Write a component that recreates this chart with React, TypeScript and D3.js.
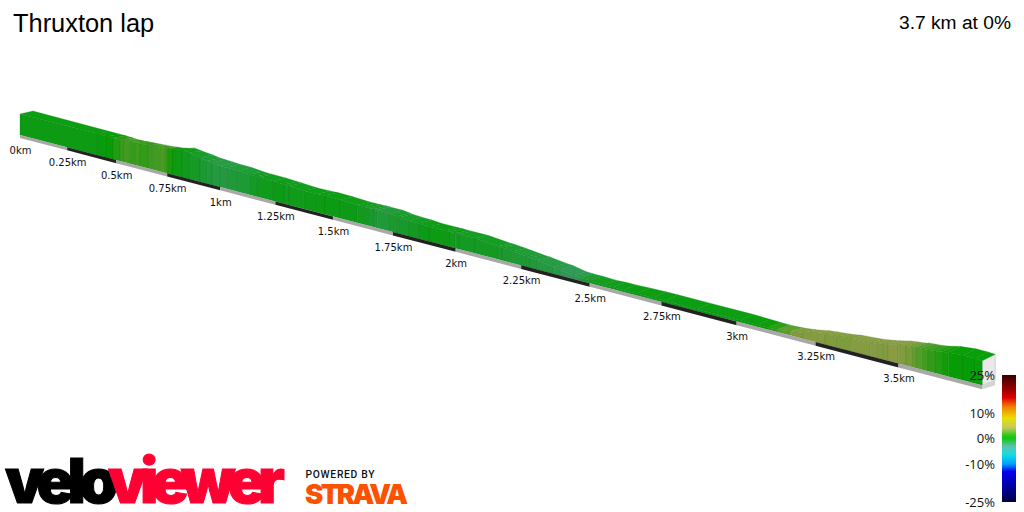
import React from "react";
import * as d3 from "d3";

const TITLE = "Thruxton lap";
const SUMMARY = "3.7 km at 0%";
const tickKm = [0, 0.25, 0.5, 0.75, 1, 1.25, 1.5, 1.75, 2, 2.25, 2.5, 2.75, 3, 3.25, 3.5];
const tickLabels = ["0km", "0.25km", "0.5km", "0.75km", "1km", "1.25km", "1.5km", "1.75km", "2km", "2.25km", "2.5km", "2.75km", "3km", "3.25km", "3.5km"];
const legendTicks = [25, 10, 0, -10, -25];
const totalKm = 3.74;

const knotKm = [0, .403, .454, .484, .519, .539, .569, .593, .618, .657, .681, .715, .74, .754, .773, .787, .821, .854, .906, .939, .962, .999, 1.031, 1.082, 1.136, 1.163, 1.177, 1.239, 1.288, 1.31, 1.375, 1.432, 1.466, 1.53, 1.602, 1.626, 1.647, 1.672, 1.685, 1.738, 1.766, 1.774, 1.815, 1.855, 1.895, 1.958, 1.978, 1.998, 2.013, 2.075, 2.163, 2.178, 2.219, 2.272, 2.283, 2.309, 2.368, 2.393, 2.44, 2.466, 2.501, 2.547, 2.583, 2.618, 2.666, 2.721, 2.762, 2.87, 3.011, 3.066, 3.101, 3.129, 3.171, 3.211, 3.254, 3.279, 3.316, 3.355, 3.416, 3.436, 3.454, 3.469, 3.499, 3.522, 3.539, 3.551, 3.568, 3.586, 3.606, 3.626, 3.644, 3.686, 3.72, 3.74];
const relief = [21, 21.5, 21.5, 21.5, 21.5, 21.7, 22, 22.3, 22.6, 23, 23.4, 24, 24.5, 24.8, 25.3, 26, 28, 26.5, 24.3, 22.6, 22.5, 21, 21, 21, 20.3, 20, 20, 19.8, 19.3, 19, 18, 18.3, 18.8, 18.5, 17.6, 17.8, 17.8, 18, 18, 17.5, 16.5, 16, 15.5, 15.2, 15, 15, 15, 15, 15, 15, 13, 13, 12, 10.4, 10, 9.5, 7, 6, 3.4, 3, 3, 2, 2, 2, 2, 2, 2, 2, 2, 2, 2, 2.5, 4, 6, 9, 10, 11, 12.5, 13.5, 14.5, 15.5, 16.5, 19, 19.5, 20, 20.5, 21, 21.5, 22, 23, 24, 25, 25, 24.5];
const crown = [3, 2, 2, 2, 1.5, 1, 1, 1, 1, 1, 1, 1, 1, 1, 1, 1, 1, 1.5, 2.5, 3, 3, 4, 3.5, 3.5, 3, 3, 3, 3, 3, 3, 3, 3, 3, 3, 3, 3, 3, 3, 3, 3.5, 3.5, 3.5, 3.5, 3.5, 3, 3, 3, 3, 3, 3, 3, 3, 3, 3, 3, 3, 3.5, 4, 4, 4, 4, 4.5, 5, 5, 5.5, 6, 6, 6, 6, 5.5, 5, 4.5, 3.5, 3, 2.5, 2.5, 2.5, 3, 3.5, 3.5, 3.5, 3.5, 3.5, 4, 4, 4.5, 4.5, 4.5, 5, 5.5, 6, 6.5, 6.5, 6.5];
const grade = [0, .2, .5, 1.2, 1.7, 2, 1.6, 1.9, 1.6, 1.8, 2, 2.2, 1.6, 1, .4, 0, -.2, -.5, -.8, -1, -1.2, -1.2, -1, -.9, -.5, -.4, -.2, -.1, -.3, -.2, -.1, 0, 0, -.1, -.2, -.4, -.6, -.9, -1, -.7, -.5, -.6, -.4, -.1, 0, -.1, -.2, -.4, -.4, -.4, -.7, -.7, -.9, -.9, -1, -1.2, -1.4, -1.7, -1.5, -.8, -.3, -.2, -.1, 0, 0, 0, 0, 0, .1, .6, 1.4, 2.6, 3.5, 3.7, 3.7, 3.6, 3.5, 3.7, 3.7, 3.6, 3.6, 3.8, 3.6, 3.3, 2.8, 2.4, 2, 1.6, 1.2, .8, .5, .3, .2];

const rampGrades = [25, 19, 16, 12.5, 8, 4.3, 0.4, -3.1, -6.3, -10, -13, -19, -25];
const rampColors = ["#3a0000", "#a00000", "#e00000", "#f08000", "#e8e000", "#c8c860", "#04c804", "#60c0b0", "#10e0e0", "#00a0ff", "#0000f0", "#0000a0", "#000040"];

const ramp = d3.scaleLinear<string>().domain(rampGrades).range(rampColors).interpolate(d3.interpolateRgb);
const perspective = 0.0749;
const xScale = d3.scaleLinear().domain([0, 1]).range([20, 205.2]);
const x = (km: number) => xScale(km / (1 - perspective * km));
const groundY = d3.scaleLinear().domain([20, 981]).range([135, 385]);
const gy = (km: number) => groundY(x(km));
const reliefY = d3.scaleLinear().domain([0, 1]).range([0, 1]);
const stripDepth = d3.scaleLinear().domain([0, totalKm]).range([3, 4]);
const legendY = d3.scaleLinear().domain([25, -25]).range([375, 502]);
const ROAD_DX = 13;

const shade = (c: string, k: number) => {
  const r = d3.rgb(c);
  return d3.rgb(r.r * k, r.g * k, r.b * k).formatHex();
};
const path = (pts: [number, number][]) => d3.line()(pts) + "Z";

export default function App() {
  const front = knotKm.map((km, i) => [x(km), gy(km) - reliefY(relief[i])] as [number, number]);
  const back = knotKm.map((km, i) => [x(km) + ROAD_DX, front[i][1] - crown[i]] as [number, number]);
  const base = knotKm.map((km) => [x(km), gy(km)] as [number, number]);
  const last = knotKm.length - 1;
  const strips = d3.range(0, 15).map((i) => {
    const a = i * 0.25;
    const b = Math.min(a + 0.25, totalKm);
    return { a, b, dark: i % 2 === 1 };
  });
  const stops = d3.range(0, 51).map((i) => 25 - i);
  const font = "'DejaVu Sans'";
  const capBackBottom: [number, number] = [back[last][0], base[last][1] - 5];
  return (
    <svg width={1024} height={512} style={{ position: "absolute", left: 0, top: 0, background: "#fff" }} xmlns="http://www.w3.org/2000/svg">
      <defs>
        <linearGradient id="ramp" x1="0" y1="0" x2="0" y2="1">
          {stops.map((g) => (
            <stop key={g} offset={(25 - g) / 50} stopColor={ramp(g)} />
          ))}
        </linearGradient>
      </defs>
      <text x={13} y={32} fontFamily="'Liberation Sans'" fontSize={25.4}>{TITLE}</text>
      <text x={1011} y={29} textAnchor="end" fontFamily="'Liberation Sans'" fontSize={19.2}>{SUMMARY}</text>

      {/* end cap */}
      <path d={path([front[last], back[last], capBackBottom, base[last]])} fill="#e9e9e9" stroke="#c4c4c4" strokeWidth={0.7} />
      <path d={path([base[last], capBackBottom, [back[last][0], base[last][1]], [base[last][0], base[last][1] + stripDepth(totalKm)]])} fill="#d4d4d4" />

      {/* road surface */}
      {grade.map((g, i) => {
        const c = ramp(g);
        return (
          <path key={"t" + i} d={path([front[i], back[i], back[i + 1], front[i + 1]])} fill={shade(c, 0.8)} stroke={shade(c, 0.66)} strokeOpacity={0.5} strokeWidth={0.5} />
        );
      })}
      {/* wall */}
      {grade.map((g, i) => {
        const c = ramp(g);
        return (
          <path key={"w" + i} d={path([base[i], front[i], front[i + 1], base[i + 1]])} fill={shade(c, 0.78)} stroke={shade(c, 0.62)} strokeOpacity={0.5} strokeWidth={0.5} />
        );
      })}

      {/* distance strip */}
      {strips.map((s) => (
        <path key={"s" + s.a} d={path([[x(s.a), gy(s.a)], [x(s.b), gy(s.b)], [x(s.b), gy(s.b) + stripDepth(s.b)], [x(s.a), gy(s.a) + stripDepth(s.a)]])} fill={s.dark ? "#222222" : "#a8a8a8"} />
      ))}
      {tickKm.map((km, i) => (
        <text key={km} x={x(km) + 0.5} y={gy(km) + 18.5} textAnchor="middle" fontFamily={font} fontSize={10} fill="#111">{tickLabels[i]}</text>
      ))}

      {/* legend */}
      <rect x={1002} y={375} width={14} height={127} fill="url(#ramp)" />
      {legendTicks.map((t) => (
        <text key={t} x={995} y={legendY(t) + 4.6} textAnchor="end" fontFamily="'Open Sans'" fontSize={13} fill="#111">{t}%</text>
      ))}

      {/* logos */}
      <text x={5} y={503} fontFamily="Inter" fontWeight={900} fontSize={62} textLength={113} lengthAdjust="spacing" fill="#000" stroke="#000" strokeWidth={1}>velo</text>
      <text x={108} y={503} fontFamily="Inter" fontWeight={900} fontSize={62} textLength={177} lengthAdjust="spacing" fill="#ff0033" stroke="#ff0033" strokeWidth={1}>viewer</text>
      <text x={305.5} y={477.5} fontFamily="Roboto" fontWeight={500} fontSize={10.3} textLength={69} fill="#111">POWERED BY</text>
      <text x={305} y={503.5} fontFamily="Inter" fontWeight={900} fontSize={27.5} textLength={103} lengthAdjust="spacing" fill="#fc5200">STRAVA</text>
    </svg>
  );
}
